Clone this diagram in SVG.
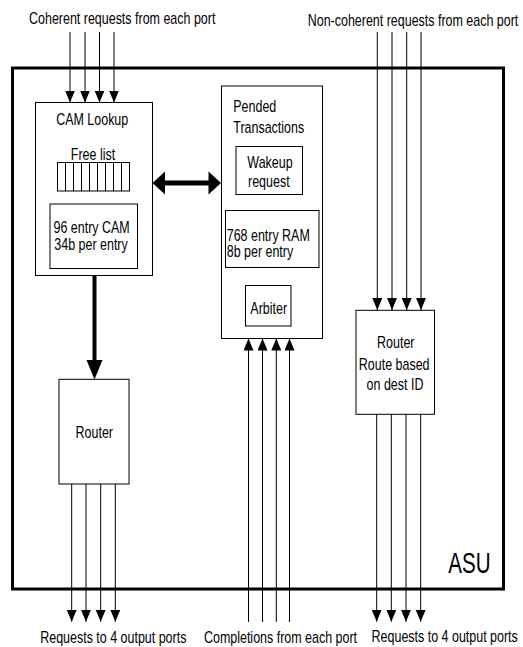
<svg xmlns="http://www.w3.org/2000/svg" width="523" height="647" viewBox="0 0 523 647">
<style>
text{font-family:"Liberation Sans",Arial,sans-serif;font-size:16px;fill:#000}
.c{text-anchor:middle}
.box{fill:#fff;stroke:#000;stroke-width:1}
.ln{stroke:#000;stroke-width:1;fill:none}
.thick{stroke:#000;fill:none}
.hd{fill:#000}
</style>
<defs>
<marker id="ah" markerUnits="userSpaceOnUse" viewBox="0 0 12 10" refX="12" refY="5" markerWidth="12" markerHeight="10" orient="auto">
<path d="M0,0 L12,5 L0,10 z" fill="#000"/>
</marker>
</defs>
<rect width="523" height="647" fill="#fff"/>
<g id="asu">
<rect x="12.5" y="68" width="491" height="521" fill="none" stroke="#000" stroke-width="3"/>
<text class="c" transform="matrix(0.71 0 0 1 469.5 572.5)" style="font-size:29px">ASU</text>
</g>
<g id="cam-lookup">
<rect class="box" x="35.5" y="102.5" width="117" height="173"/>
<text class="c" transform="matrix(0.78 0 0 1 92.2 125)">CAM Lookup</text>
<text class="c" transform="matrix(0.78 0 0 1 93 160)">Free list</text>
<rect class="box" x="57.5" y="162.5" width="72" height="28.5"/>
<path class="ln" d="M65.5,162.5V191M73.5,162.5V191M81.5,162.5V191M89.5,162.5V191M97.5,162.5V191M105.5,162.5V191M113.5,162.5V191M121.5,162.5V191"/>
<rect class="box" x="50" y="204" width="87.5" height="64.5"/>
<text transform="matrix(0.78 0 0 1 53.5 233)">96 entry CAM</text>
<text transform="matrix(0.78 0 0 1 54.3 249.5)">34b per entry</text>
</g>
<g id="pended">
<rect class="box" x="221.5" y="86" width="101" height="252.5"/>
<text transform="matrix(0.78 0 0 1 233.3 112.3)">Pended</text>
<text transform="matrix(0.78 0 0 1 233.3 132.7)">Transactions</text>
<rect class="box" x="236" y="146.5" width="66.5" height="48"/>
<text class="c" transform="matrix(0.78 0 0 1 270 168.3)">Wakeup</text>
<text class="c" transform="matrix(0.78 0 0 1 268.8 186.7)">request</text>
<rect class="box" x="225.5" y="210.5" width="93.5" height="57"/>
<text transform="matrix(0.78 0 0 1 226.7 240.7)">768 entry RAM</text>
<text transform="matrix(0.78 0 0 1 226.7 257.3)">8b per entry</text>
<rect class="box" x="245.5" y="285.5" width="45.5" height="40.5"/>
<text class="c" transform="matrix(0.78 0 0 1 268.7 314.3)">Arbiter</text>
</g>
<g id="router-right">
<rect class="box" x="356" y="310.3" width="78.5" height="104"/>
<text class="c" transform="matrix(0.78 0 0 1 395.8 347.7)">Router</text>
<text class="c" transform="matrix(0.78 0 0 1 394.2 370)">Route based</text>
<text class="c" transform="matrix(0.78 0 0 1 395 390)">on dest ID</text>
</g>
<g id="router-left">
<rect class="box" x="59" y="379.3" width="70" height="104.7"/>
<text class="c" transform="matrix(0.78 0 0 1 94.3 438.3)">Router</text>
</g>
<g id="labels">
<text class="c" transform="matrix(0.78 0 0 1 122.2 24)">Coherent requests from each port</text>
<text class="c" transform="matrix(0.78 0 0 1 413 26.3)">Non-coherent requests from each port</text>
<text class="c" transform="matrix(0.78 0 0 1 113.3 643.3)">Requests to 4 output ports</text>
<text class="c" transform="matrix(0.78 0 0 1 280.5 643.3)">Completions from each port</text>
<text class="c" transform="matrix(0.78 0 0 1 444.7 642)">Requests to 4 output ports</text>
</g>
<g id="connectors">
<g class="ln" marker-end="url(#ah)">
<line x1="70" y1="32" x2="70" y2="102.5"/>
<line x1="85" y1="32" x2="85" y2="102.5"/>
<line x1="99.5" y1="32" x2="99.5" y2="102.5"/>
<line x1="114" y1="32" x2="114" y2="102.5"/>
<line x1="377.3" y1="32" x2="377.3" y2="310"/>
<line x1="392" y1="32" x2="392" y2="310"/>
<line x1="406.7" y1="32" x2="406.7" y2="310"/>
<line x1="421" y1="32" x2="421" y2="310"/>
<line x1="248.5" y1="622" x2="248.5" y2="338.5"/>
<line x1="262.5" y1="622" x2="262.5" y2="338.5"/>
<line x1="276.3" y1="622" x2="276.3" y2="338.5"/>
<line x1="289.5" y1="622" x2="289.5" y2="338.5"/>
<line x1="71.7" y1="484" x2="71.7" y2="621.7"/>
<line x1="86" y1="484" x2="86" y2="621.7"/>
<line x1="100.7" y1="484" x2="100.7" y2="621.7"/>
<line x1="115.3" y1="484" x2="115.3" y2="621.7"/>
<line x1="376.7" y1="414.3" x2="376.7" y2="621.7"/>
<line x1="391.3" y1="414.3" x2="391.3" y2="621.7"/>
<line x1="406" y1="414.3" x2="406" y2="621.7"/>
<line x1="420.7" y1="414.3" x2="420.7" y2="621.7"/>
</g>
<line class="thick" x1="94.5" y1="275.5" x2="94.5" y2="362" stroke-width="4"/>
<polygon class="hd" points="86.5,360 102.5,360 94.5,379.5"/>
<line class="thick" x1="163" y1="183" x2="211" y2="183" stroke-width="5"/>
<polygon class="hd" points="152.5,183 165,171.5 165,194.5"/>
<polygon class="hd" points="221,183 208.5,171.5 208.5,194.5"/>
</g>
</svg>
